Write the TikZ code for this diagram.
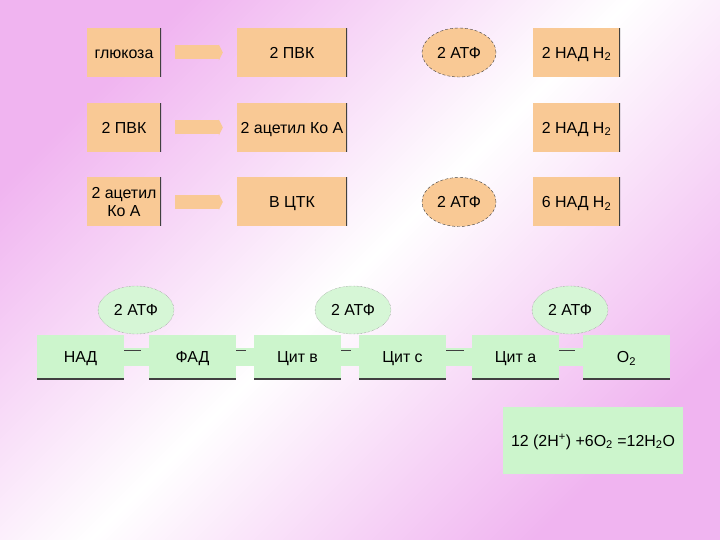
\documentclass[tikz,border=0pt]{standalone}
\usepackage{fontspec}
\setmainfont{Liberation Sans}
\usepackage{tikz}
\usetikzlibrary{arrows.meta,shapes.geometric}
\definecolor{pembe}{HTML}{F0B4F0}
\definecolor{seftali}{HTML}{F9C995}
\definecolor{yesilKutu}{HTML}{CCF5CC}
\definecolor{acikYesil}{HTML}{D6F6D6}
\definecolor{koyuGri}{HTML}{404040}

\begin{document}
\begin{tikzpicture}[x=1bp,y=-1bp,
  every node/.style={font=\fontsize{16}{18}\selectfont,text height=11.5bp,text depth=0bp},
  obox/.style={fill=seftali,minimum width=#1,minimum height=49bp,inner sep=1bp,
    path picture={\draw[koyuGri,line width=2bp] (path picture bounding box.north east)--(path picture bounding box.south east);}},
  obox/.default=74bp,
  oatp/.style={ellipse,fill=seftali,draw=koyuGri,densely dashed,minimum width=74bp,minimum height=49bp,inner sep=0pt},
  gbox/.style={fill=yesilKutu,minimum width=87bp,minimum height=44bp,inner sep=1bp,
    path picture={\draw[koyuGri,line width=2bp] (path picture bounding box.south west)--(path picture bounding box.south east);}},
  gatp/.style={ellipse,fill=acikYesil,draw=gray,densely dotted,minimum width=76bp,minimum height=48bp,inner sep=0pt},
  flow/.style={seftali,line width=14bp,shorten <=14bp,shorten >=14bp,-{Triangle[length=4bp,width=16bp]}},
  link/.style={yesilKutu,line width=18bp,
    postaction={draw=koyuGri,line width=0.8bp,shorten >=8bp,transform canvas={yshift=7bp}}}]
% background
\fill[top color=pembe,bottom color=pembe,middle color=white,shading angle=45] (0,0) rectangle (720,540);
% top rows
\node[obox] (glu) at (124,52.5) {глюкоза};
\node[obox=110bp] (pvkA) at (292,52.5) {2 ПВК};
\node[oatp] (atpA) at (459,52.5) {2 АТФ};
\node[obox=87bp] (nadA) at (576.5,52.5) {2 НАД H\textsubscript{2}};
\node[obox] (pvkB) at (124,127.5) {2 ПВК};
\node[obox=110bp] (acB) at (292,127.5) {2 ацетил Ко А};
\node[obox=87bp] (nadB) at (576.5,127.5) {2 НАД H\textsubscript{2}};
\node[obox,align=center,text height=,text depth=] (acC) at (124,202) {2 ацетил\\Ко А};
\node[obox=110bp] (ctk) at (292,202) {В ЦТК};
\node[oatp] (atpC) at (459,202) {2 АТФ};
\node[obox=87bp] (nadC) at (576.5,202) {6 НАД H\textsubscript{2}};
\draw[flow] (glu)--(pvkA);
\draw[flow] (pvkB)--(acB);
\draw[flow] (acC)--(ctk);
% respiratory chain
\node[gatp] (atp1) at (136,310) {2 АТФ};
\node[gatp] (atp2) at (353,310) {2 АТФ};
\node[gatp] (atp3) at (570,310) {2 АТФ};
\node[gbox] (nad) at (80.5,357) {НАД};
\node[gbox] (fad) at (192.5,357) {ФАД};
\node[gbox] (citb) at (297.5,357) {Цит в};
\node[gbox] (citc) at (402.5,357) {Цит с};
\node[gbox] (cita) at (515.5,357) {Цит а};
\node[gbox] (oxy) at (626.5,357) {O\textsubscript{2}};
\draw[link] (nad)--(fad);
\draw[link] (fad)--(citb);
\draw[link] (citb)--(citc);
\draw[link] (citc)--(cita);
\draw[link] (cita)--(oxy);
\node[fill=yesilKutu,minimum width=180bp,minimum height=67bp] (eq) at (593,440.5) {12 (2H\textsuperscript{+}) +6O\textsubscript{2} =12H\textsubscript{2}O};
\end{tikzpicture}
\end{document}
